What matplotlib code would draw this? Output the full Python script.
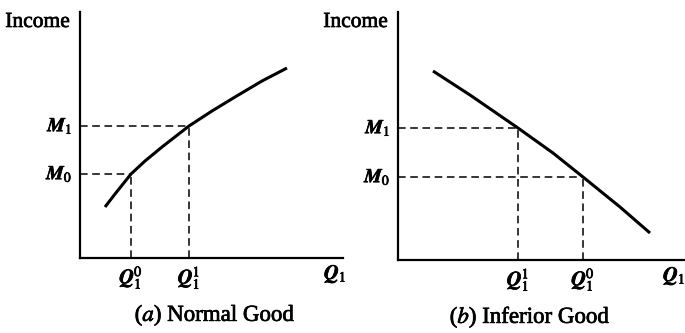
"""Income–consumption curves: normal good vs inferior good."""
import matplotlib
matplotlib.use('Agg')
import matplotlib.pyplot as plt
import matplotlib.patheffects as pe

plt.rcParams['font.family'] = ['Liberation Serif', 'DejaVu Serif']
plt.rcParams['mathtext.fontset'] = 'stix'

# (a) normal good: quantity of Q1 vs income (arbitrary units)
normal_q = [25, 35, 51, 65, 82, 109, 132, 155, 182, 207]
normal_m = [51, 64, 84, 97, 111, 132, 147, 161, 177, 190]
normal_pts = {'q': [51, 109], 'm': [84, 132]}
normal_qlab = [r'$\mathbfit{Q}_1^0$', r'$\mathbfit{Q}_1^1$']
normal_mlab = [r'$\mathbfit{M}_0$', r'$\mathbfit{M}_1$']

# (b) inferior good
inferior_q = [35, 72, 120, 155, 185, 222, 252]
inferior_m = [189, 165, 132, 107, 83, 53, 27]
inferior_pts = {'q': [120, 185], 'm': [132, 83]}
inferior_qlab = [r'$\mathbfit{Q}_1^1$', r'$\mathbfit{Q}_1^0$']
inferior_mlab = [r'$\mathbfit{M}_1$', r'$\mathbfit{M}_0$']

W, H = 685, 333
fig = plt.figure(figsize=(W / 100, H / 100), dpi=100)
ink = [pe.withStroke(linewidth=0.5, foreground='black')]


def panel(rect, xmax, ymax, q, m, pts, qlab, mlab, caption, cap_x, qend):
    ax = fig.add_axes(rect)
    ax.set_xlim(0, xmax); ax.set_ylim(0, ymax)
    for s in ['top', 'right']:
        ax.spines[s].set_visible(False)
    for s in ['left', 'bottom']:
        ax.spines[s].set_linewidth(1.6)
    ax.set_xticks([]); ax.set_yticks([])
    ax.patch.set_visible(False)
    ax.plot(q, m, color='black', lw=2.2, solid_capstyle='butt', solid_joinstyle='round')
    kw = dict(clip_on=False, path_effects=ink)
    for qi, mi, ql, ml in zip(pts['q'], pts['m'], qlab, mlab):
        ax.plot([0, qi], [mi, mi], color='black', lw=1.1, dashes=(5, 3))
        ax.plot([qi, qi], [0, mi], color='black', lw=1.1, dashes=(5, 3))
        ax.text(qi, -6, ql, ha='center', va='top', fontsize=14.5, **kw)
        ax.text(-7, mi, ml, ha='right', va='center', fontsize=14, **kw)
    ax.text(-10, ymax - 1, 'Income', ha='right', va='top', fontsize=15.5, **kw)
    ax.text(qend, -6, r'$\mathbfit{Q}_1$', ha='left', va='top', fontsize=14.5, **kw)
    ax.text(cap_x, -57, caption, ha='center', va='center', fontsize=16.5, **kw)
    return ax


panel([80 / W, (H - 258) / H, 263 / W, 246 / H], 263, 246,
      normal_q, normal_m, normal_pts, normal_qlab, normal_mlab,
      r'($a$) Normal Good', 135, 244)
panel([398 / W, (H - 260) / H, 287 / W, 248 / H], 287, 248,
      inferior_q, inferior_m, inferior_pts, inferior_qlab, inferior_mlab,
      r'($b$) Inferior Good', 132, 265)

fig.savefig('out.png', dpi=100)
